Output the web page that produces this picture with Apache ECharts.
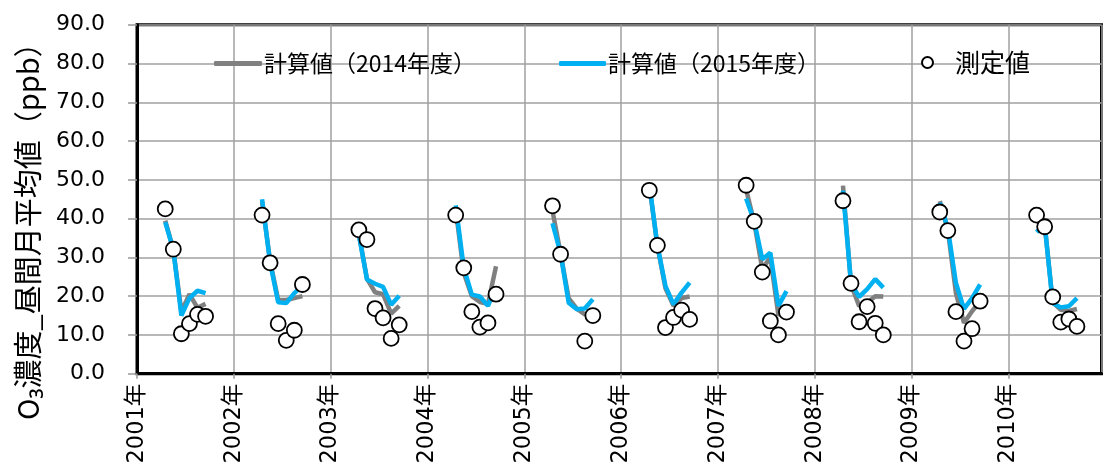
<!DOCTYPE html>
<html><head><meta charset="utf-8">
<script src="https://cdn.jsdelivr.net/npm/echarts@6/dist/echarts.min.js"></script>
<style>html,body{margin:0;padding:0;background:#fff}#c{width:1105px;height:472px}</style>
</head><body><div id="c"></div>
<script>
const years = [2001,2002,2003,2004,2005,2006,2007,2008,2009,2010];
const months = [4,5,6,7,8,9];
const calc2014 = [
  [39.5,32.0,16.0,20.5,17.0,18.0],
  [44.5,29.0,19.0,19.0,19.5,20.0],
  [36.0,24.5,21.0,20.5,15.5,17.5],
  [42.5,26.0,20.0,18.5,18.0,27.7],
  [42.0,31.0,19.5,16.8,15.3,16.0],
  [48.5,33.0,22.0,17.5,19.5,19.9],
  [47.5,39.0,27.0,30.0,15.0,17.5],
  [48.5,23.0,17.5,18.3,20.0,19.9],
  [44.5,37.0,20.8,13.1,16.1,18.7],
  [42.5,38.5,18.4,16.5,16.2,16.7]
];
const calc2015 = [
  [39.1,32.0,15.0,19.5,21.4,20.8],
  [45.0,28.6,18.4,18.2,20.8,22.7],
  [35.9,24.3,23.2,22.4,17.8,20.1],
  [43.4,27.3,20.4,19.9,17.5,22.4],
  [38.8,31.0,18.3,16.6,16.8,19.2],
  [48.9,33.1,22.6,17.9,20.9,23.5],
  [45.2,39.3,29.5,31.2,17.5,21.3],
  [47.2,23.3,19.8,21.8,24.4,22.2],
  [44.1,37.5,23.4,16.7,19.5,23.0],
  [36.5,38.5,18.2,17.1,17.4,19.5]
];
const measured = [
  [42.5,32.1,10.3,12.9,15.3,14.8],
  [40.9,28.6,12.9,8.6,11.2,23.0],
  [37.1,34.6,16.8,14.4,9.1,12.6],
  [40.9,27.3,16.0,12.0,13.1,20.5],
  [43.3,30.8,null,null,8.4,15.0],
  [47.3,33.1,11.9,14.5,16.4,14.0],
  [48.6,39.3,26.2,13.6,10.0,15.9],
  [44.6,23.3,13.4,17.3,13.0,10.0],
  [41.7,36.9,16.0,8.4,11.6,18.7],
  [40.9,37.9,19.8,13.3,14.1,12.2]
];
const yTicks = [0,10,20,30,40,50,60,70,80,90];
const names = ['計算値（2014年度）','計算値（2015年度）','測定値'];

function lineData(arr){
  const out=[];
  years.forEach((y,i)=>{
    months.forEach((m,j)=>{ out.push([y+(m-0.5)/12, arr[i][j]]); });
    out.push([y+0.9,'-']);
  });
  return out;
}
function scatterData(arr){
  const out=[];
  years.forEach((y,i)=>{
    months.forEach((m,j)=>{ if(arr[i][j]!==null) out.push([y+(m-0.5)/12, arr[i][j]]); });
  });
  return out;
}
const CJK='"Noto Sans CJK JP", "Noto Sans", sans-serif';
const NUM='"DejaVu Sans", "Noto Sans CJK JP", sans-serif';
const chart = echarts.init(document.getElementById('c'), null, {renderer:'canvas'});
chart.setOption({
  animation:false,
  backgroundColor:'#fff',
  textStyle:{fontFamily:CJK},
  grid:{left:137, right:3.5, top:24.7, bottom:98.3, show:true, borderColor:'#000', borderWidth:3, backgroundColor:'transparent'},
  legend:[
    {data:[names[0]], left:209, top:47, itemWidth:48, itemHeight:5, icon:'roundRect',
     textStyle:{fontSize:23, color:'#000', fontFamily:CJK, padding:[0,0,0,-3]}},
    {data:[names[1]], left:554, top:47, itemWidth:47, itemHeight:5, icon:'roundRect',
     textStyle:{fontSize:23, color:'#000', fontFamily:CJK, padding:[0,0,0,-3]}},
    {data:[names[2]], left:916, top:45, itemWidth:11, itemHeight:11, icon:'circle',
     textStyle:{fontSize:25, color:'#000', fontFamily:CJK, padding:[0,0,0,17]}}
  ],
  xAxis:{type:'value', min:2001, max:2010.962, interval:1,
    axisLine:{show:true, onZero:false, lineStyle:{color:'#000', width:3}},
    axisTick:{show:true, length:5, lineStyle:{color:'#999', width:1.5}},
    splitLine:{show:true, lineStyle:{color:'#a0a0a0', width:1.5}},
    axisLabel:{rotate:90, margin:10, fontSize:22.5, color:'#000', fontFamily:NUM,
      formatter:v=>Math.round(v)+'年', showMaxLabel:false}
  },
  yAxis:{type:'value', min:yTicks[0], max:yTicks[yTicks.length-1], interval:10,
    name:'O₃濃度_昼間月平均値（ppb）', nameLocation:'middle', nameGap:95,
    nameTextStyle:{fontSize:29, color:'#000', fontFamily:CJK, padding:[0,50,0,0]},
    axisLine:{show:true, lineStyle:{color:'#000', width:3}},
    axisTick:{show:true, length:9, lineStyle:{color:'#999', width:1.5}},
    splitLine:{show:true, lineStyle:{color:'#a0a0a0', width:1.5}},
    axisLabel:{margin:32, fontSize:22, color:'#000', fontFamily:NUM, formatter:v=>v.toFixed(1)}
  },
  series:[
    {name:names[0], type:'line', data:lineData(calc2014), showSymbol:false, symbol:'none', connectNulls:false,
     lineStyle:{color:'#808080', width:4.5}, itemStyle:{color:'#808080'}, z:2},
    {name:names[1], type:'line', data:lineData(calc2015), showSymbol:false, symbol:'none', connectNulls:false,
     lineStyle:{color:'#00b0f0', width:4.5}, itemStyle:{color:'#00b0f0'}, z:3},
    {name:names[2], type:'scatter', data:scatterData(measured), symbol:'circle', symbolSize:15,
     itemStyle:{color:'#fff', borderColor:'#000', borderWidth:1.8, opacity:1}, z:4}
  ]
});
</script></body></html>
